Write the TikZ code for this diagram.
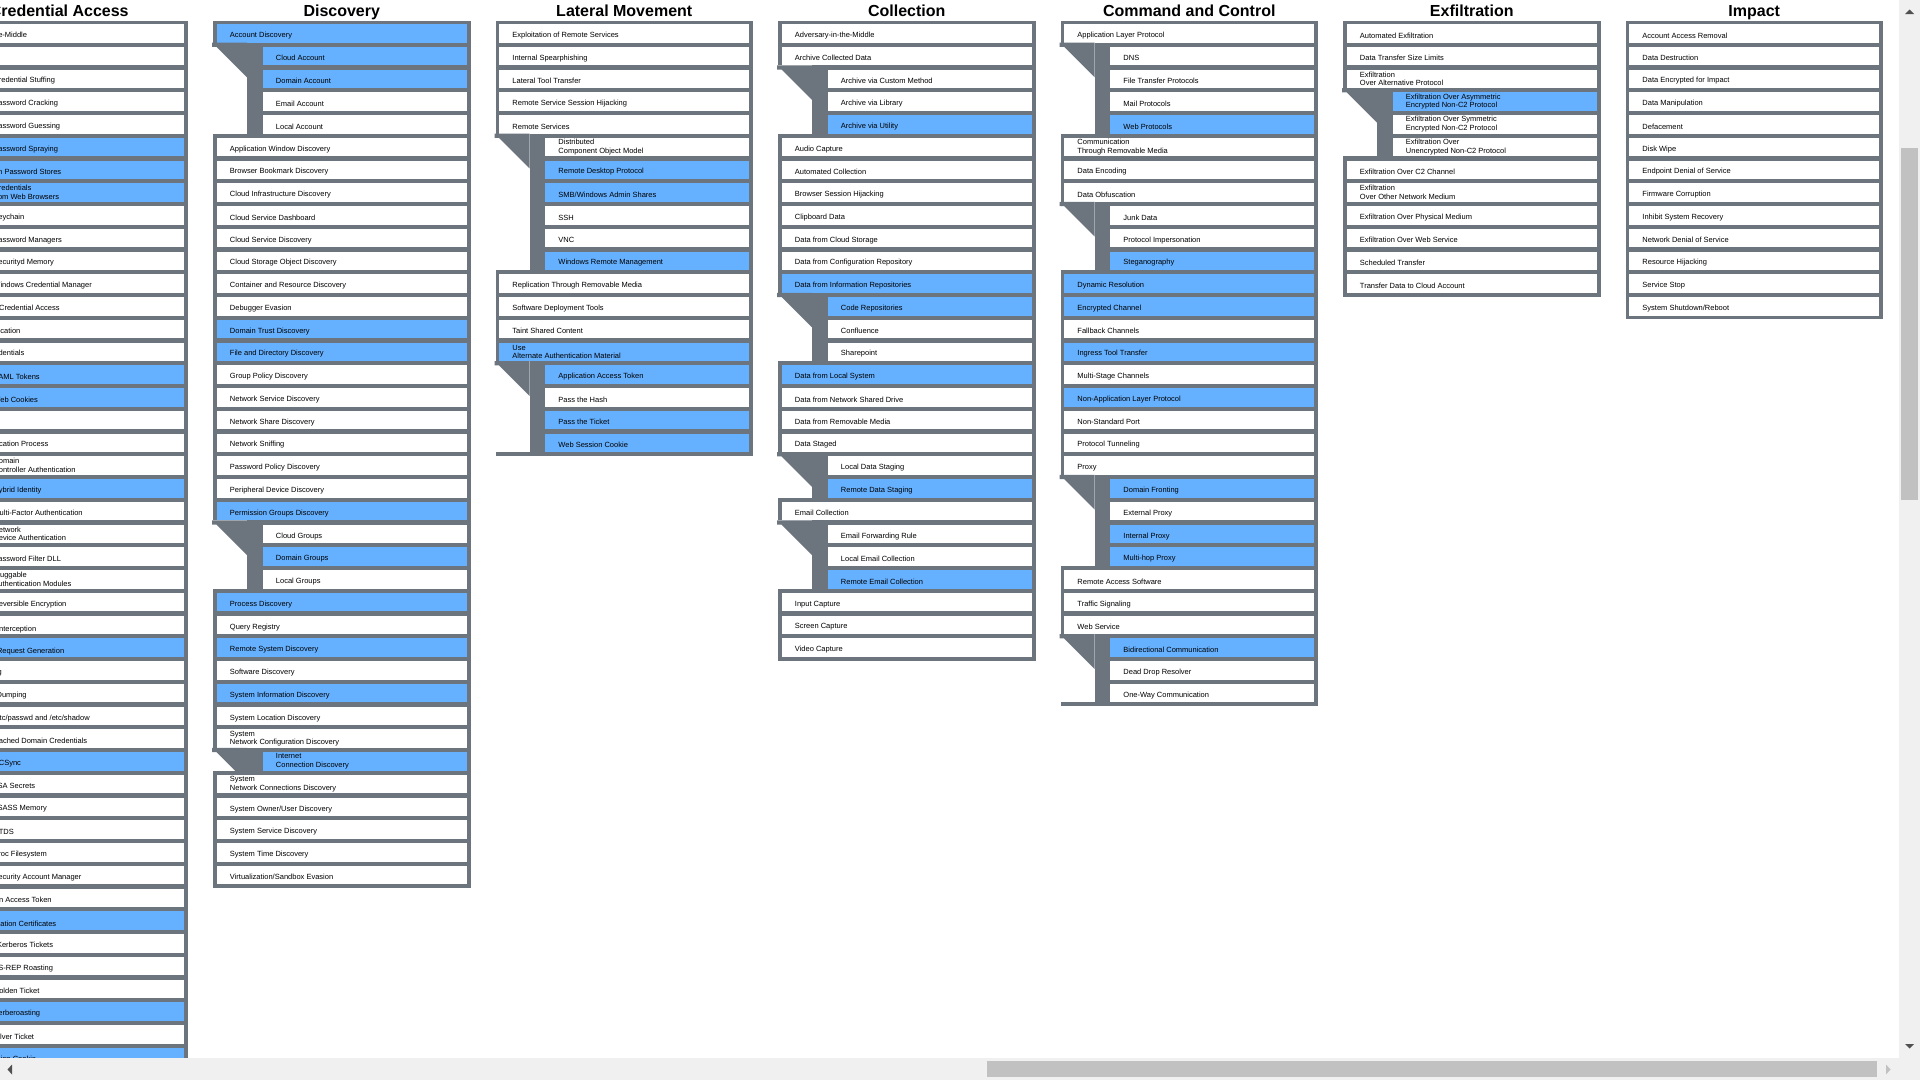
\documentclass[tikz,border=0pt]{standalone}
\usepackage{fontspec}
\setmainfont{Liberation Sans}

\definecolor{framegray}{RGB}{108,117,125}
\definecolor{hitblue}{RGB}{102,177,255}
\definecolor{barbg}{RGB}{240,240,240}
\definecolor{barthumb}{RGB}{193,193,193}
\definecolor{bararrow}{RGB}{80,80,80}

\tikzset{
  cell/.style={anchor=north west, minimum height=18.7pt, inner sep=0pt, outer sep=0pt},
  techname/.style={anchor=west, inner sep=0pt, align=left, text=black, font=\fontsize{7.5}{8.7}\selectfont},
  tactictitle/.style={anchor=base, font=\fontsize{16}{19}\selectfont\bfseries},
  colframe/.style={fill=framegray},
}

% single-line names sit a little low in their cell
\makeatletter
\newcommand{\nameshift}[1]{\in@{\\}{#1}\ifin@\def\tshift{0pt}\else\def\tshift{-2.2pt}\fi}
\makeatother

% one tactic column: #1 position, #2 name prefix, #3 title, #4 rows kind/hit/name
% kind 0 = technique, 1 = first sub-technique, 2 = further sub-technique
\newcommand{\tactic}[4]{
  \pgfmathsetmacro\cl{-69.5+282.5*#1}
  \foreach \row [count=\n] in {#4} {\xdef\nrows{\n}}
  \node[tactictitle] (#2-title) at (\cl+128.75, 16.7) {#3};
  \fill[colframe] (\cl, 20.7) rectangle (\cl+257.5, {24+22.75*\nrows-0.3});
  % white room left of the sub-techniques
  \foreach \kind/\hit/\tname [count=\i from 0] in {#4} {
    \ifnum\kind>0
      \fill[white] (\cl-1, {24+22.75*\i-4.1}) rectangle (\cl+34, {24+22.75*\i+18.7});
    \fi
  }
  \foreach \kind/\hit/\tname [count=\i from 0] in {#4} {
    \pgfmathsetmacro\yt{24+22.75*\i}
    \ifnum\kind=1
      \fill[colframe] (\cl-1, \yt-4.1) -- (\cl+34, \yt-4.1) -- (\cl+34, \yt+30.5) -- (\cl+3.5, \yt) -- (\cl-1, \yt) -- cycle;
    \fi
    \ifnum\kind=0 \def\cx{3.5}\def\cw{250.2}\else \def\cx{49.5}\def\cw{204.2}\fi
    \ifnum\hit=1 \def\cfill{hitblue}\else \def\cfill{white}\fi
    \expandafter\nameshift\expandafter{\tname}
    \node[cell, fill=\cfill, minimum width=\cw pt] (#2\i) at (\cl+\cx, \yt) {};
    \node[techname] (#2\i-t) at ([xshift=13.25pt, yshift=\tshift]#2\i.west) {\tname};
  }
}

\begin{document}
\begin{tikzpicture}[x=1pt, y=-1pt]
  \useasboundingbox (0,0) rectangle (1920,1080);
  \fill[white] (0,0) rectangle (1920,1080);
  \begin{scope}
    \clip (0,0) rectangle (1899,1058);
    \tactic{0}{cred}{Credential Access}{
      0/0/{Adversary-in-the-Middle},
      0/0/{Brute Force},
      1/0/{Credential Stuffing},
      2/0/{Password Cracking},
      2/0/{Password Guessing},
      2/1/{Password Spraying},
      0/1/{Credentials from Password Stores},
      1/1/{Credentials\\from Web Browsers},
      2/0/{Keychain},
      2/0/{Password Managers},
      2/0/{Securityd Memory},
      2/0/{Windows Credential Manager},
      0/0/{Exploitation for Credential Access},
      0/0/{Forced Authentication},
      0/0/{Forge Web Credentials},
      1/1/{SAML Tokens},
      2/1/{Web Cookies},
      0/0/{Input Capture},
      0/0/{Modify Authentication Process},
      1/0/{Domain\\Controller Authentication},
      2/1/{Hybrid Identity},
      2/0/{Multi-Factor Authentication},
      2/0/{Network\\Device Authentication},
      2/0/{Password Filter DLL},
      2/0/{Pluggable\\Authentication Modules},
      2/0/{Reversible Encryption},
      0/0/{Multi-Factor\\Authentication Interception},
      0/1/{Multi-Factor\\Authentication Request Generation},
      0/0/{Network Sniffing},
      0/0/{OS Credential Dumping},
      1/0/{/etc/passwd and /etc/shadow},
      2/0/{Cached Domain Credentials},
      2/1/{DCSync},
      2/0/{LSA Secrets},
      2/0/{LSASS Memory},
      2/0/{NTDS},
      2/0/{Proc Filesystem},
      2/0/{Security Account Manager},
      0/0/{Steal Application Access Token},
      0/1/{Steal or\\Forge Authentication Certificates},
      0/0/{Steal or Forge Kerberos Tickets},
      1/0/{AS-REP Roasting},
      2/0/{Golden Ticket},
      2/1/{Kerberoasting},
      2/0/{Silver Ticket},
      0/1/{Steal Web Session Cookie}
    }
    \tactic{1}{disc}{Discovery}{
      0/1/{Account Discovery},
      1/1/{Cloud Account},
      2/1/{Domain Account},
      2/0/{Email Account},
      2/0/{Local Account},
      0/0/{Application Window Discovery},
      0/0/{Browser Bookmark Discovery},
      0/0/{Cloud Infrastructure Discovery},
      0/0/{Cloud Service Dashboard},
      0/0/{Cloud Service Discovery},
      0/0/{Cloud Storage Object Discovery},
      0/0/{Container and Resource Discovery},
      0/0/{Debugger Evasion},
      0/1/{Domain Trust Discovery},
      0/1/{File and Directory Discovery},
      0/0/{Group Policy Discovery},
      0/0/{Network Service Discovery},
      0/0/{Network Share Discovery},
      0/0/{Network Sniffing},
      0/0/{Password Policy Discovery},
      0/0/{Peripheral Device Discovery},
      0/1/{Permission Groups Discovery},
      1/0/{Cloud Groups},
      2/1/{Domain Groups},
      2/0/{Local Groups},
      0/1/{Process Discovery},
      0/0/{Query Registry},
      0/1/{Remote System Discovery},
      0/0/{Software Discovery},
      0/1/{System Information Discovery},
      0/0/{System Location Discovery},
      0/0/{System\\Network Configuration Discovery},
      1/1/{Internet\\Connection Discovery},
      0/0/{System\\Network Connections Discovery},
      0/0/{System Owner/User Discovery},
      0/0/{System Service Discovery},
      0/0/{System Time Discovery},
      0/0/{Virtualization/Sandbox Evasion}
    }
    \tactic{2}{lat}{Lateral Movement}{
      0/0/{Exploitation of Remote Services},
      0/0/{Internal Spearphishing},
      0/0/{Lateral Tool Transfer},
      0/0/{Remote Service Session Hijacking},
      0/0/{Remote Services},
      1/0/{Distributed\\Component Object Model},
      2/1/{Remote Desktop Protocol},
      2/1/{SMB/Windows Admin Shares},
      2/0/{SSH},
      2/0/{VNC},
      2/1/{Windows Remote Management},
      0/0/{Replication Through Removable Media},
      0/0/{Software Deployment Tools},
      0/0/{Taint Shared Content},
      0/1/{Use\\Alternate Authentication Material},
      1/1/{Application Access Token},
      2/0/{Pass the Hash},
      2/1/{Pass the Ticket},
      2/1/{Web Session Cookie}
    }
    \tactic{3}{coll}{Collection}{
      0/0/{Adversary-in-the-Middle},
      0/0/{Archive Collected Data},
      1/0/{Archive via Custom Method},
      2/0/{Archive via Library},
      2/1/{Archive via Utility},
      0/0/{Audio Capture},
      0/0/{Automated Collection},
      0/0/{Browser Session Hijacking},
      0/0/{Clipboard Data},
      0/0/{Data from Cloud Storage},
      0/0/{Data from Configuration Repository},
      0/1/{Data from Information Repositories},
      1/1/{Code Repositories},
      2/0/{Confluence},
      2/0/{Sharepoint},
      0/1/{Data from Local System},
      0/0/{Data from Network Shared Drive},
      0/0/{Data from Removable Media},
      0/0/{Data Staged},
      1/0/{Local Data Staging},
      2/1/{Remote Data Staging},
      0/0/{Email Collection},
      1/0/{Email Forwarding Rule},
      2/0/{Local Email Collection},
      2/1/{Remote Email Collection},
      0/0/{Input Capture},
      0/0/{Screen Capture},
      0/0/{Video Capture}
    }
    \tactic{4}{cnc}{Command and Control}{
      0/0/{Application Layer Protocol},
      1/0/{DNS},
      2/0/{File Transfer Protocols},
      2/0/{Mail Protocols},
      2/1/{Web Protocols},
      0/0/{Communication\\Through Removable Media},
      0/0/{Data Encoding},
      0/0/{Data Obfuscation},
      1/0/{Junk Data},
      2/0/{Protocol Impersonation},
      2/1/{Steganography},
      0/1/{Dynamic Resolution},
      0/1/{Encrypted Channel},
      0/0/{Fallback Channels},
      0/1/{Ingress Tool Transfer},
      0/0/{Multi-Stage Channels},
      0/1/{Non-Application Layer Protocol},
      0/0/{Non-Standard Port},
      0/0/{Protocol Tunneling},
      0/0/{Proxy},
      1/1/{Domain Fronting},
      2/0/{External Proxy},
      2/1/{Internal Proxy},
      2/1/{Multi-hop Proxy},
      0/0/{Remote Access Software},
      0/0/{Traffic Signaling},
      0/0/{Web Service},
      1/1/{Bidirectional Communication},
      2/0/{Dead Drop Resolver},
      2/0/{One-Way Communication}
    }
    \tactic{5}{exf}{Exfiltration}{
      0/0/{Automated Exfiltration},
      0/0/{Data Transfer Size Limits},
      0/0/{Exfiltration\\Over Alternative Protocol},
      1/1/{Exfiltration Over Asymmetric\\Encrypted Non-C2 Protocol},
      2/0/{Exfiltration Over Symmetric\\Encrypted Non-C2 Protocol},
      2/0/{Exfiltration Over\\Unencrypted Non-C2 Protocol},
      0/0/{Exfiltration Over C2 Channel},
      0/0/{Exfiltration\\Over Other Network Medium},
      0/0/{Exfiltration Over Physical Medium},
      0/0/{Exfiltration Over Web Service},
      0/0/{Scheduled Transfer},
      0/0/{Transfer Data to Cloud Account}
    }
    \tactic{6}{imp}{Impact}{
      0/0/{Account Access Removal},
      0/0/{Data Destruction},
      0/0/{Data Encrypted for Impact},
      0/0/{Data Manipulation},
      0/0/{Defacement},
      0/0/{Disk Wipe},
      0/0/{Endpoint Denial of Service},
      0/0/{Firmware Corruption},
      0/0/{Inhibit System Recovery},
      0/0/{Network Denial of Service},
      0/0/{Resource Hijacking},
      0/0/{Service Stop},
      0/0/{System Shutdown/Reboot}
    }
  \end{scope}
  % scroll bars
  \fill[barbg] (1899,0) rectangle (1920,1058);
  \fill[barthumb] (1901,148) rectangle (1918,500);
  \fill[bararrow] (1905,14) -- (1914,14) -- (1909.5,9.5) -- cycle;
  \fill[bararrow] (1905,1044) -- (1914,1044) -- (1909.5,1048.5) -- cycle;
  \fill[barbg] (0,1058) rectangle (1920,1080);
  \fill[barthumb] (987,1061) rectangle (1877,1077);
  \fill[bararrow] (12,1064.5) -- (12,1074.5) -- (7.5,1069.5) -- cycle;
  \fill[barthumb] (1886,1064.5) -- (1886,1074.5) -- (1890.5,1069.5) -- cycle;
\end{tikzpicture}
\end{document}
